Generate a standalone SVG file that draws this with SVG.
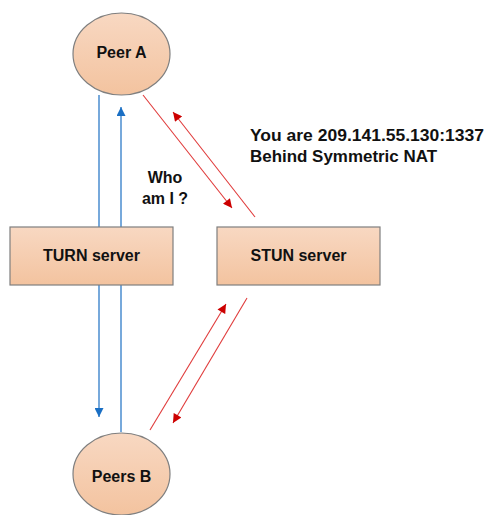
<svg xmlns="http://www.w3.org/2000/svg" width="486" height="515" viewBox="0 0 486 515">
<style>
.lbl{font-family:"Liberation Sans",Arial,sans-serif;font-weight:bold;font-size:16px;fill:#111}
.node{stroke:#7f7f7f;stroke-width:1.2}
.blue{stroke:#2e7bc8;stroke-width:1.3;fill:none}
.red{stroke:#e03a3a;stroke-width:1.1;fill:none}
</style>
<defs>
<linearGradient id="g" x1="0" y1="0" x2="0" y2="1">
<stop offset="0" stop-color="#f8d8c2"/>
<stop offset="1" stop-color="#f3c39f"/>
</linearGradient>
<marker id="ab" viewBox="0 0 10 10" refX="10" refY="5" markerWidth="9" markerHeight="9" markerUnits="userSpaceOnUse" orient="auto">
<path d="M0,0 L10,5 L0,10 z" fill="#1a6fc4"/>
</marker>
<marker id="ar" viewBox="0 0 10 10" refX="10" refY="5" markerWidth="10" markerHeight="9" markerUnits="userSpaceOnUse" orient="auto">
<path d="M0,0 L10,5 L0,10 z" fill="#cc0000"/>
</marker>
</defs>
<g id="connectors">
<line class="blue" x1="99" y1="95" x2="99" y2="417" marker-end="url(#ab)"/>
<line class="blue" x1="121" y1="432" x2="121" y2="107" marker-end="url(#ab)"/>
<line class="red" x1="143" y1="95" x2="232" y2="208" marker-end="url(#ar)"/>
<line class="red" x1="255" y1="217" x2="173" y2="112" marker-end="url(#ar)"/>
<line class="red" x1="150" y1="430" x2="226" y2="304" marker-end="url(#ar)"/>
<line class="red" x1="247" y1="298" x2="173" y2="423" marker-end="url(#ar)"/>
</g>
<g id="peerA">
<ellipse class="node" cx="121.5" cy="54" rx="48.5" ry="41" fill="url(#g)"/>
<text class="lbl" x="121.5" y="58" text-anchor="middle">Peer A</text>
</g>
<g id="turn">
<rect class="node" x="10" y="227" width="163" height="58" fill="url(#g)"/>
<text class="lbl" x="91.5" y="261" text-anchor="middle">TURN server</text>
</g>
<g id="stun">
<rect class="node" x="217" y="227" width="163" height="58" fill="url(#g)"/>
<text class="lbl" x="298.5" y="261" text-anchor="middle">STUN server</text>
</g>
<g id="peersB">
<ellipse class="node" cx="121.5" cy="474" rx="48.5" ry="41" fill="url(#g)"/>
<text class="lbl" x="121.5" y="482" text-anchor="middle">Peers B</text>
</g>
<text class="lbl" x="165" y="183" text-anchor="middle">Who</text>
<text class="lbl" x="165" y="204" text-anchor="middle">am I ?</text>
<text class="lbl" x="250" y="141" textLength="234" lengthAdjust="spacingAndGlyphs">You are 209.141.55.130:1337</text>
<text class="lbl" x="250" y="162" textLength="187" lengthAdjust="spacingAndGlyphs">Behind Symmetric NAT</text>
</svg>
